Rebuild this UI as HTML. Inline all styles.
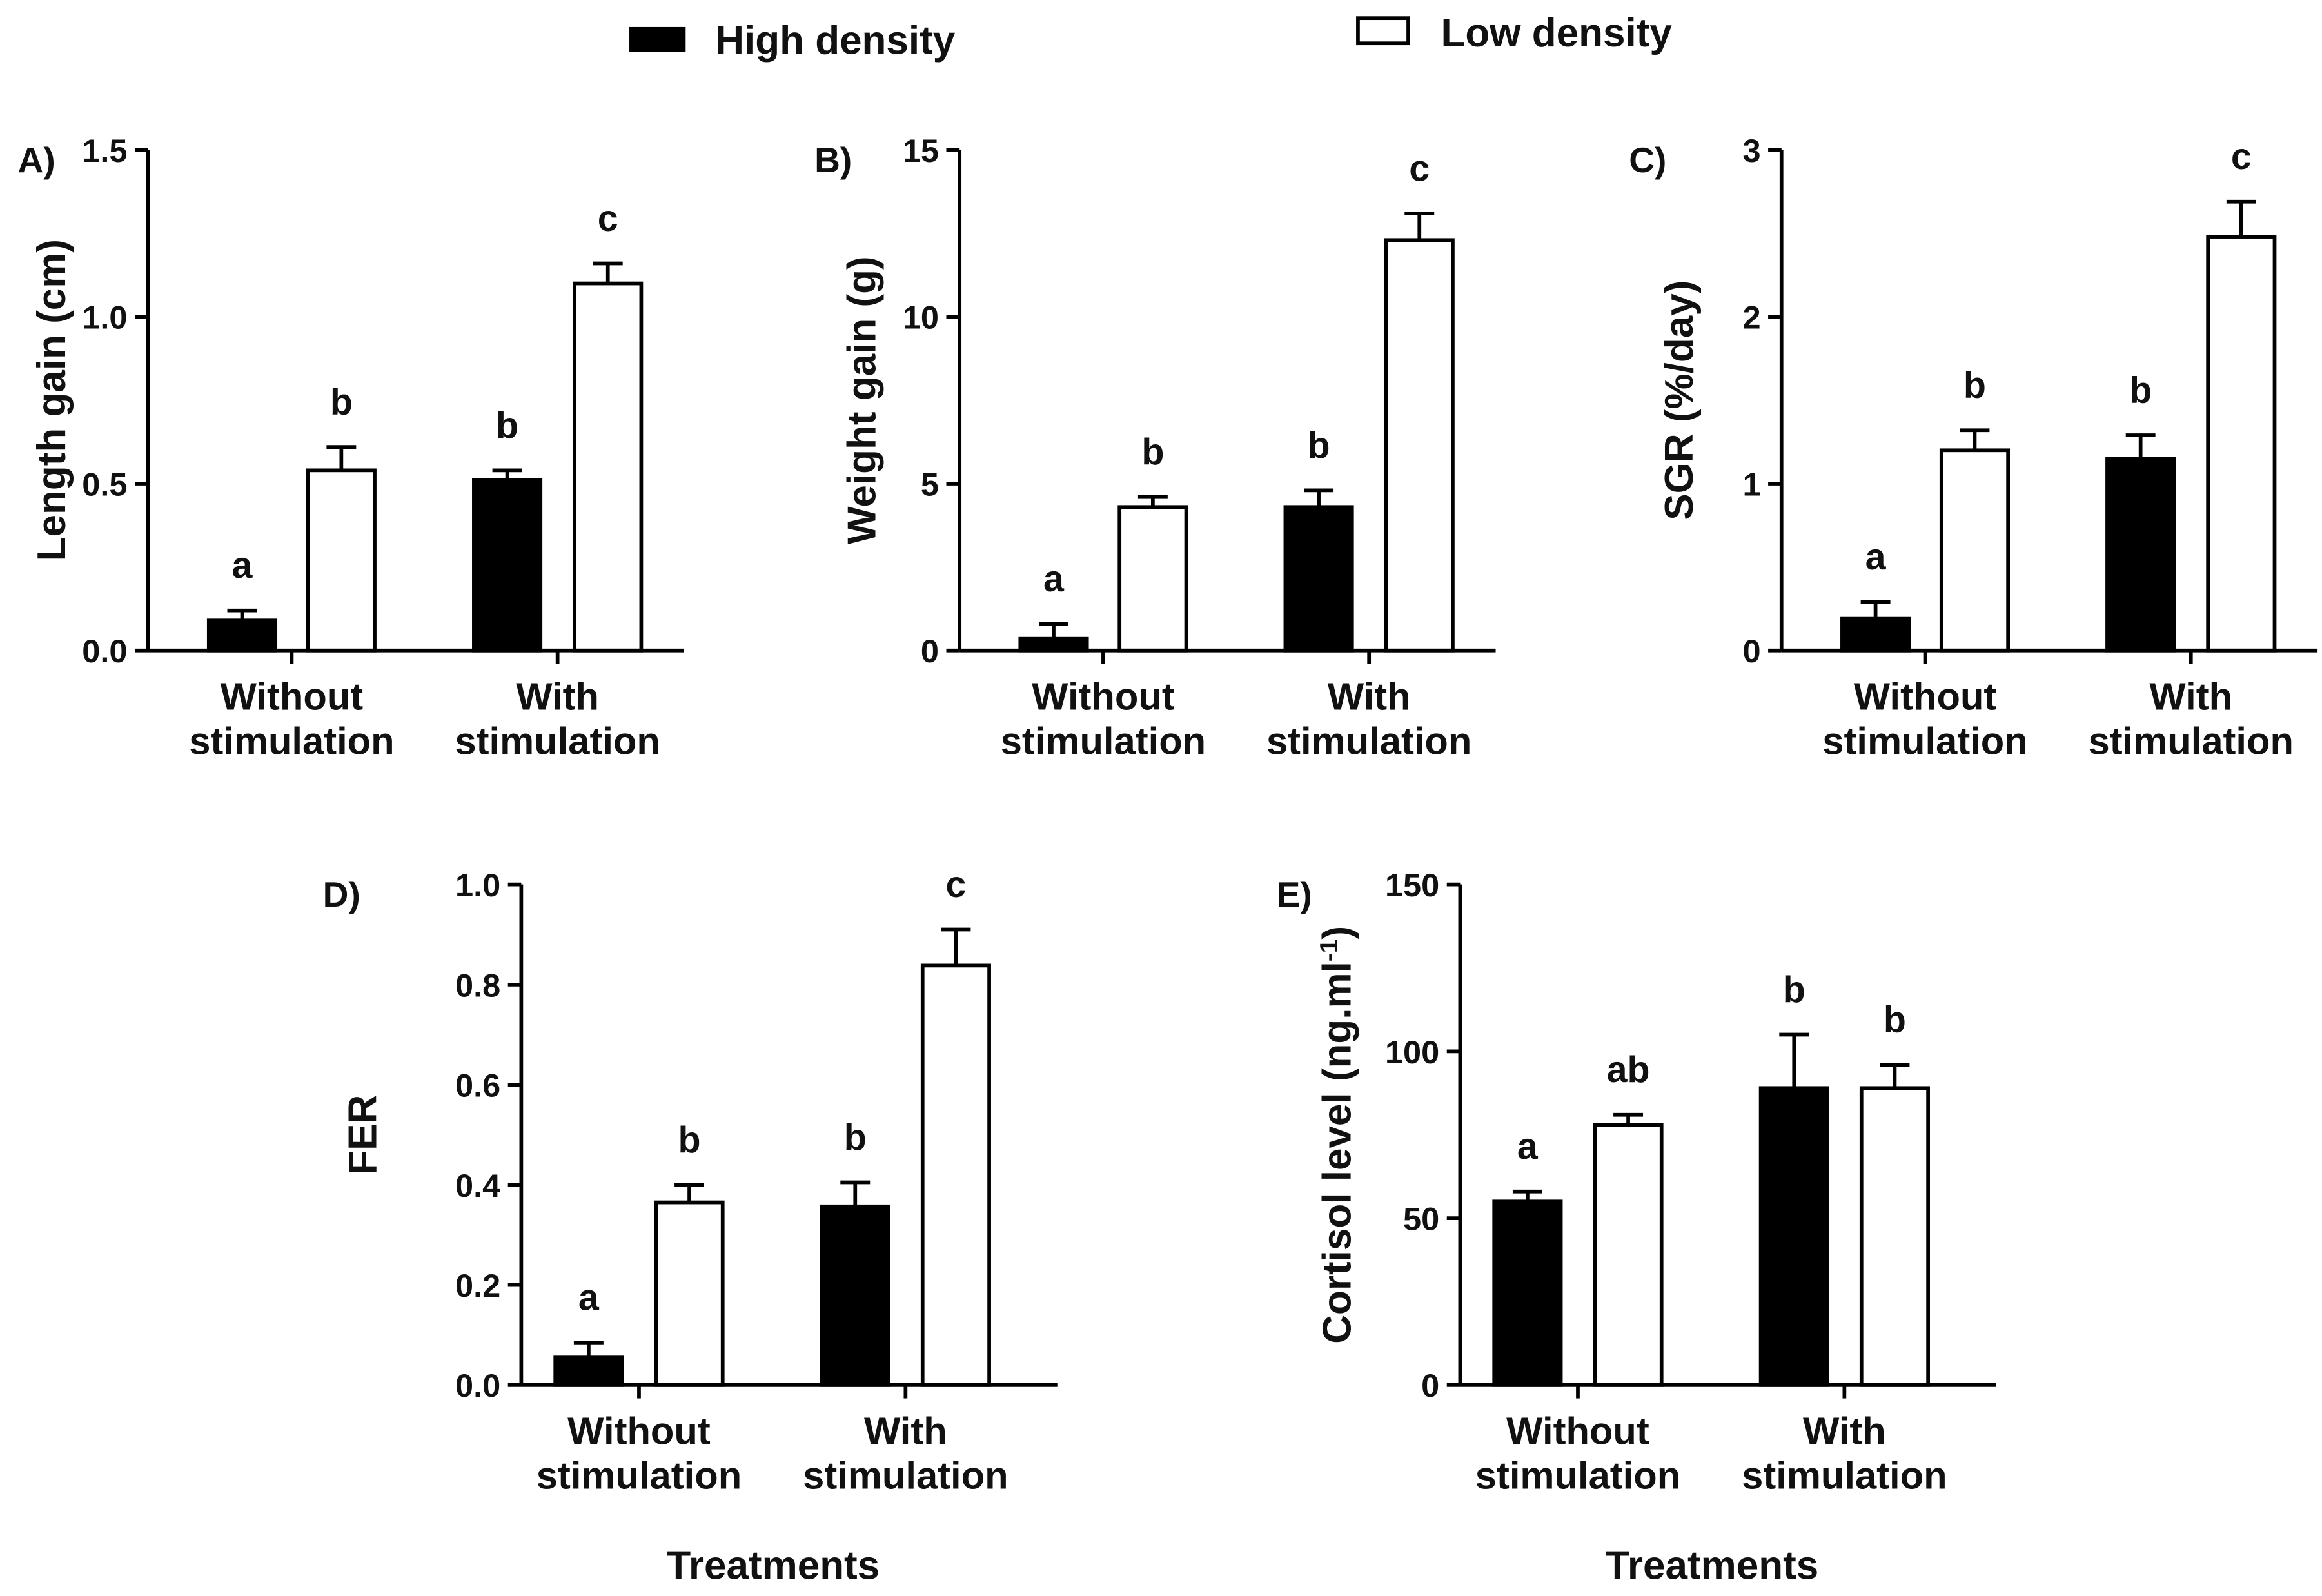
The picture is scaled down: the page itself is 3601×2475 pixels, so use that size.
<!DOCTYPE html>
<html><head><meta charset="utf-8"><style>
html,body{margin:0;padding:0;background:#fff}
svg text{font-family:"Liberation Sans",Arial,sans-serif;font-weight:bold;fill:#111}
</style></head><body>
<svg id="chart" width="3601" height="2470" viewBox="0 0 1568 1075" xmlns="http://www.w3.org/2000/svg">
<g>
<rect x="425" y="18" width="38" height="17" fill="#000"/>
<text x="483" y="36" font-size="27">High density</text>
<rect x="917" y="12" width="34" height="17" fill="#fff" stroke="#000" stroke-width="2.5"/>
<text x="973" y="31" font-size="27">Low density</text>
</g>
</svg>
<script>
const groups = ["Without|stimulation", "With|stimulation"];
const lengthVals = [0.09, 0.54, 0.51, 1.10];
const lengthErr = [0.12, 0.61, 0.54, 1.16];
const lengthLetters = ["a", "b", "b", "c"];
const lengthTicks = ["0.0", "0.5", "1.0", "1.5"];
const weightVals = [0.35, 4.3, 4.3, 12.3];
const weightErr = [0.8, 4.6, 4.8, 13.1];
const weightLetters = ["a", "b", "b", "c"];
const weightTicks = ["0", "5", "10", "15"];
const sgrVals = [0.19, 1.2, 1.15, 2.48];
const sgrErr = [0.29, 1.32, 1.29, 2.69];
const sgrLetters = ["a", "b", "b", "c"];
const sgrTicks = ["0", "1", "2", "3"];
const ferVals = [0.055, 0.365, 0.357, 0.838];
const ferErr = [0.085, 0.40, 0.405, 0.91];
const ferLetters = ["a", "b", "b", "c"];
const ferTicks = ["0.0", "0.2", "0.4", "0.6", "0.8", "1.0"];
const cortVals = [55, 78, 89, 89];
const cortErr = [58, 81, 105, 96];
const cortLetters = ["a", "ab", "b", "b"];
const cortTicks = ["0", "50", "100", "150"];

const NS = "http://www.w3.org/2000/svg";
const svg = document.getElementById("chart");
function mk(tag, attrs, parent, text) {
  const e = document.createElementNS(NS, tag);
  for (const k in attrs) e.setAttribute(k, attrs[k]);
  if (text !== undefined) e.textContent = text;
  (parent || svg).appendChild(e);
  return e;
}
function panel(o) {
  const g = mk("g", {});
  
  
  const ticks = o.ticks.map(Number);
  const ymax = ticks[ticks.length - 1];
  const y = v => o.bottom - (v / ymax) * (o.bottom - o.top);
  const barW = 45;
  const xs = o.offs.map(d => o.x0 + d);
  o.vals.forEach((v, i) => {
    const cx = xs[i] + barW / 2;
    const el = mk("line", {x1: cx, x2: cx, y1: y(v), y2: y(o.err[i]), stroke: "#000", "stroke-width": 2.5}, g);
    
    
    const cap = mk("line", {x1: cx - 10, x2: cx + 10, y1: y(o.err[i]), y2: y(o.err[i]), stroke: "#000", "stroke-width": 2.5}, g);
    
    
    const b = mk("rect", {x: xs[i], y: y(v), width: barW, height: o.bottom - y(v),
      fill: i % 2 === 0 ? "#000" : "#fff", stroke: "#000", "stroke-width": 2.5}, g);
    
    
    const t = mk("text", {x: cx, y: y(o.err[i]) - 22, "font-size": 25, "text-anchor": "middle"}, g, o.letters[i]);
    
    
  });
  const ya = mk("line", {x1: o.x0, x2: o.x0, y1: o.top, y2: o.bottom, stroke: "#000", "stroke-width": 2.5}, g);
  
  
  const xa = mk("line", {x1: o.x0, x2: o.x0 + 362, y1: o.bottom, y2: o.bottom, stroke: "#000", "stroke-width": 2.5}, g);
  
  
  o.ticks.forEach(tk => {
    const yy = y(Number(tk));
    const l = mk("line", {x1: o.x0 - 9, x2: o.x0, y1: yy, y2: yy, stroke: "#000", "stroke-width": 2.5}, g);
    
    
    const t = mk("text", {x: o.x0 - 14, y: yy + 8, "font-size": 22, "text-anchor": "end"}, g, tk);
    
    
  });
  groups.forEach((gname, gi) => {
    const cx = (xs[gi * 2] + xs[gi * 2 + 1] + barW) / 2;
    const l = mk("line", {x1: cx, x2: cx, y1: o.bottom, y2: o.bottom + 9, stroke: "#000", "stroke-width": 2.5}, g);
    
    
    gname.split("|").forEach((p, pi) => {
      const t = mk("text", {x: cx, y: o.bottom + 40 + pi * 30, "font-size": 26, "text-anchor": "middle"}, g, p);
      
      
    });
  });
  const pl = mk("text", {x: o.labelX, y: o.top + 15, "font-size": 24}, g, o.label);
  
  
  const ty = (o.top + o.bottom) / 2;
  const yt = mk("text", {x: o.titleX, y: ty, "font-size": 27, "text-anchor": "middle",
    transform: `rotate(-90 ${o.titleX} ${ty})`}, g);
  
  
  yt.innerHTML = o.title;
  if (o.xtitle) {
    const xt = mk("text", {x: o.x0 + 170, y: o.bottom + 131, "font-size": 27, "text-anchor": "middle"}, g, "Treatments");
    
    
  }
}
const topOffs = [41, 108, 220, 288];
const botOffs = [23, 91, 203, 271];
panel({name: "panel-a-length-gain", x0: 100, top: 101, bottom: 439, offs: topOffs, ticks: lengthTicks, vals: lengthVals, err: lengthErr, letters: lengthLetters, label: "A)", labelX: 12, title: "Length gain (cm)", titleX: 44});
panel({name: "panel-b-weight-gain", x0: 648, top: 101, bottom: 439, offs: topOffs, ticks: weightTicks, vals: weightVals, err: weightErr, letters: weightLetters, label: "B)", labelX: 550, title: "Weight gain (g)", titleX: 591});
panel({name: "panel-c-sgr", x0: 1203, top: 101, bottom: 439, offs: topOffs, ticks: sgrTicks, vals: sgrVals, err: sgrErr, letters: sgrLetters, label: "C)", labelX: 1100, title: "SGR (%/day)", titleX: 1143});
panel({name: "panel-d-fer", x0: 352, top: 597, bottom: 935, offs: botOffs, ticks: ferTicks, vals: ferVals, err: ferErr, letters: ferLetters, label: "D)", labelX: 218, title: "FER", titleX: 254, xtitle: true});
panel({name: "panel-e-cortisol", x0: 986, top: 597, bottom: 935, offs: botOffs, ticks: cortTicks, vals: cortVals, err: cortErr, letters: cortLetters, label: "E)", labelX: 862, title: 'Cortisol level (ng.ml<tspan dy="-9" font-size="17">-1</tspan><tspan dy="9">)</tspan>', titleX: 912, xtitle: true});
</script>
</body></html>
